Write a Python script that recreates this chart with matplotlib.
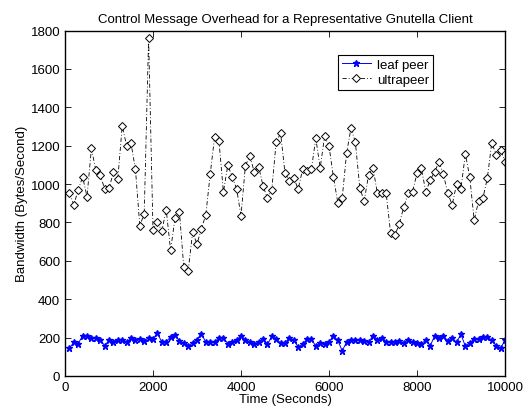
import matplotlib
matplotlib.use('Agg')
import matplotlib.pyplot as plt

plt.rcParams['font.family'] = ['Liberation Sans', 'DejaVu Sans']

# sample times (s)
t = [100 * (i + 1) for i in range(100)]

leaf = [144, 176, 169, 210, 207, 200, 200, 190, 158, 186,
        179, 190, 190, 177, 196, 190, 193, 183, 200, 193,
        224, 176, 179, 203, 214, 183, 172, 158, 172, 190,
        221, 176, 176, 176, 200, 200, 169, 176, 190, 207,
        190, 176, 169, 176, 193, 165, 207, 193, 172, 172,
        200, 186, 151, 165, 193, 193, 155, 172, 165, 176,
        210, 186, 131, 176, 186, 190, 186, 183, 176, 210,
        190, 200, 179, 179, 176, 183, 172, 190, 176, 172,
        169, 186, 158, 207, 200, 210, 183, 196, 176, 217,
        155, 172, 193, 193, 203, 203, 186, 158, 144, 186]

ultra = [956, 892, 970, 1037, 935, 1186, 1073, 1049, 975, 978,
         1061, 1027, 1303, 1201, 1212, 1079, 783, 845, 1760, 760,
         805, 755, 866, 656, 823, 857, 566, 549, 748, 688,
         767, 840, 1051, 1246, 1224, 958, 1098, 1039, 975, 835,
         1096, 1146, 1065, 1091, 992, 926, 971, 1220, 1265, 1058,
         1018, 1032, 973, 1077, 1069, 1077, 1239, 1084, 1249, 1199,
         1039, 904, 926, 1160, 1291, 1218, 980, 911, 1048, 1086,
         952, 951, 952, 746, 734, 794, 881, 952, 961, 1056,
         1084, 959, 1020, 1065, 1114, 1051, 952, 892, 999, 977,
         1157, 1036, 812, 911, 928, 1032, 1216, 1154, 1180, 1117]

fig = plt.figure(figsize=(5.26, 4.10), dpi=100)
ax = fig.add_axes([0.1236, 0.0805, 0.8364, 0.8425])

ax.plot(t, leaf, '-', color='#0000ff', marker='*', markersize=5, linewidth=0.7, label='leaf peer')
ax.plot(t, ultra, 'k', linestyle=(0, (5, 2.5, 1, 2.5)), marker='D', markersize=4.2,
        markerfacecolor='white', markeredgewidth=0.7, linewidth=0.6, label='ultrapeer')

ax.set_xlim(0, 10000)
ax.set_ylim(0, 1800)
ax.set_xticks(range(0, 10001, 2000))
ax.set_yticks(range(0, 1801, 200))
ax.tick_params(direction='in', top=True, right=True, labelsize=9.5, length=4, width=0.6)
for s in ax.spines.values():
    s.set_linewidth(1.0)

ax.set_title('Control Message Overhead for a Representative Gnutella Client', fontsize=9.5, pad=6)
ax.set_xlabel('Time (Seconds)', fontsize=9.5, labelpad=0)
ax.set_ylabel('Bandwidth (Bytes/Second)', fontsize=9.5, labelpad=2)

leg = ax.legend(loc='upper left', bbox_to_anchor=(0.62, 0.93), fontsize=9.5, fancybox=False,
                edgecolor='k', framealpha=1, borderpad=0.3, labelspacing=0.2,
                handlelength=2.2, handletextpad=0.5, borderaxespad=0)
leg.get_frame().set_linewidth(0.8)

fig.savefig('out.png', dpi=100)
